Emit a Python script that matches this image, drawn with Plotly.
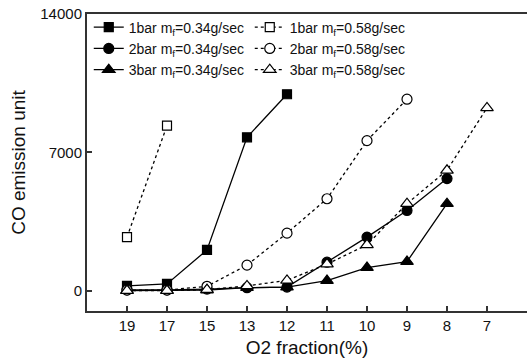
import plotly.graph_objects as go

# O2 fraction categories (%), plotted as evenly spaced categories
o2_labels = ["19", "17", "15", "13", "12", "11", "10", "9", "8", "7"]

# CO emission per series (None = not measured)
co_1bar_034 = [240, 340, 2060, 7760, 9940, None, None, None, None, None]
co_1bar_058 = [2710, 8350, None, None, None, None, None, None, None, None]
co_2bar_034 = [40, 40, 80, 150, 180, 1440, 2710, 4060, 5670, None]
co_2bar_058 = [30, 30, 220, 1290, 2910, 4650, 7590, 9690, None, None]
co_3bar_034 = [0, 0, 30, 150, 180, 510, 1170, 1470, 4400, None]
co_3bar_058 = [0, 0, 50, 240, 520, 1340, 2320, 4400, 6090, 9250]

series_names = [
    "1bar m<sub>f</sub>=0.34g/sec", "1bar m<sub>f</sub>=0.58g/sec",
    "2bar m<sub>f</sub>=0.34g/sec", "2bar m<sub>f</sub>=0.58g/sec",
    "3bar m<sub>f</sub>=0.34g/sec", "3bar m<sub>f</sub>=0.58g/sec",
]
series_values = [co_1bar_034, co_1bar_058, co_2bar_034, co_2bar_058, co_3bar_034, co_3bar_058]

y_ticks = [0, 7000, 14000]

FONT = "Liberation Sans, Arial, sans-serif"

styles = [
    dict(symbol="square", size=9, fill="black", dash="solid"),
    dict(symbol="square", size=9, fill="white", dash="dot"),
    dict(symbol="circle", size=10, fill="black", dash="solid"),
    dict(symbol="circle", size=10, fill="white", dash="dot"),
    dict(symbol="triangle-up", size=11, fill="black", dash="solid"),
    dict(symbol="triangle-up", size=11, fill="white", dash="dot"),
]

fig = go.Figure()
for name, vals, st in zip(series_names, series_values, styles):
    fig.add_trace(go.Scatter(
        x=o2_labels, y=vals, name=name, mode="lines+markers",
        line=dict(color="black", width=1.3, dash=st["dash"]),
        marker=dict(symbol=st["symbol"], size=st["size"], color=st["fill"],
                    line=dict(color="black", width=1.2)),
        connectgaps=False,
    ))

fig.update_layout(
    width=527, height=364,
    margin=dict(l=87, r=0, t=14, b=53),
    paper_bgcolor="white", plot_bgcolor="white",
    font=dict(family=FONT, size=15, color="#111"),
    legend=dict(
        orientation="h", x=0.004, y=1.008, xanchor="left", yanchor="top",
        entrywidth=116, entrywidthmode="pixels",
        font=dict(family=FONT, size=14, color="#111"),
        bgcolor="rgba(0,0,0,0)",
    ),
    showlegend=True,
)

fig.update_xaxes(
    type="category", categoryorder="array", categoryarray=o2_labels,
    range=[-1, 10],
    showline=True, linecolor="#333", linewidth=2, mirror=True,
    ticks="inside", ticklen=5, tickwidth=1.5, tickcolor="#333",
    showgrid=False, zeroline=False,
    title=dict(text="O2 fraction(%)", font=dict(family=FONT, size=19), standoff=8),
    tickfont=dict(family=FONT, size=15),
)
fig.update_yaxes(
    range=[-1030, 14000], tickvals=y_ticks, ticktext=[str(v) for v in y_ticks],
    showline=True, linecolor="#333", linewidth=2, mirror=False,
    ticks="inside", ticklen=5, tickwidth=1.5, tickcolor="#333",
    showgrid=False, zeroline=False,
    title=dict(text="CO emission unit", font=dict(family=FONT, size=19), standoff=10),
    tickfont=dict(family=FONT, size=15),
)

fig.write_html("out.html")
